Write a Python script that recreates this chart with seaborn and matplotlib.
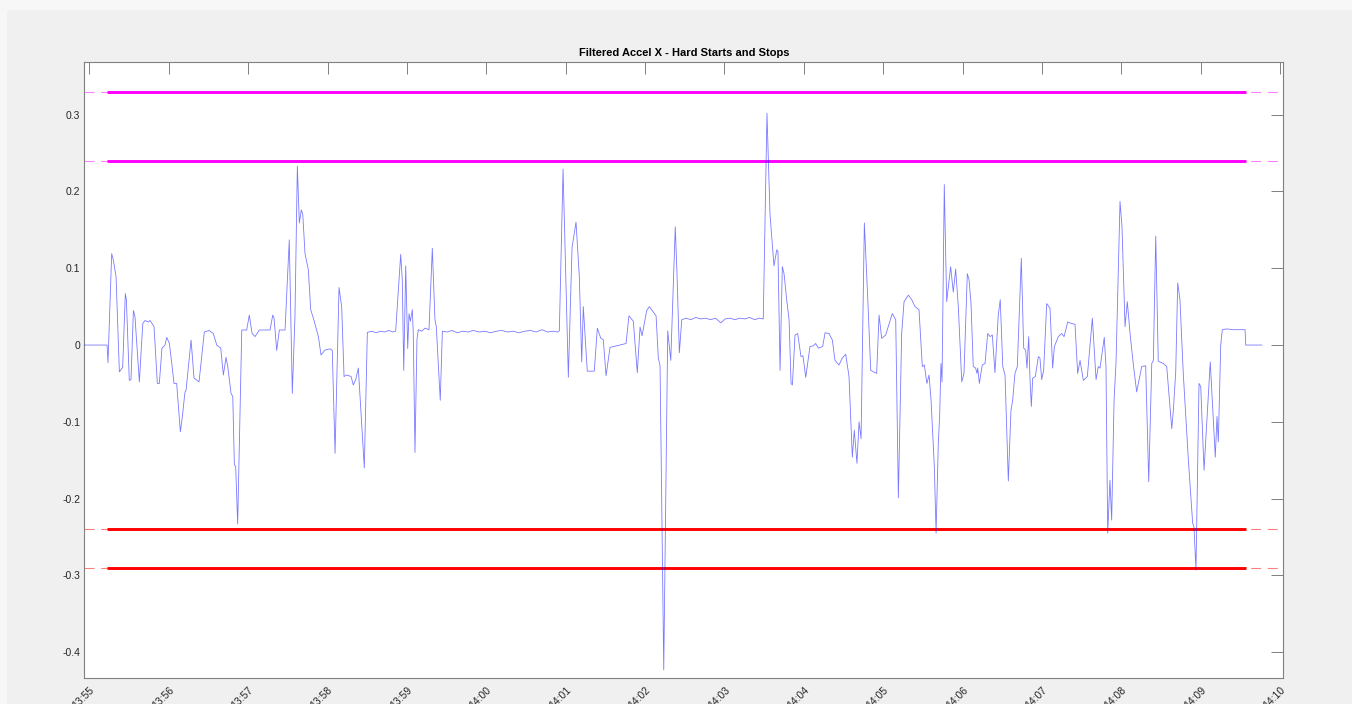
import numpy as np
import pandas as pd
import matplotlib
matplotlib.use("Agg")
import matplotlib.pyplot as plt
import matplotlib.dates as mdates
from matplotlib.patches import Rectangle
import seaborn as sns

# Time reference of the trip and the x-range shown (seconds after 13:55:00)
trip_start = pd.Timestamp("2017-06-01 13:55:00")
x_range_sec = [-3.8, 902.3]
y_range = [-0.434, 0.369]

# Filtered longitudinal acceleration, sampled at seconds after 13:55:00
t_sec = [
    -4.0, 13.4, 14.1, 16.9, 18.1, 20.2, 22.7, 25.2, 27.2, 28.0,
    30.2, 31.5, 33.3, 34.5, 37.8, 40.4, 42.1, 44.6, 45.9, 48.9,
    51.4, 52.9, 54.9, 57.2, 58.5, 60.5, 62.3, 64.0, 66.0, 68.8,
    70.3, 72.3, 73.1, 76.9, 79.1, 82.9, 86.9, 90.5, 93.7, 96.3,
    99.3, 101.3, 103.3, 104.6, 107.1, 108.4, 109.6, 110.6, 112.1, 115.2,
    118.9, 120.9, 123.0, 125.2, 128.5, 133.5, 136.6, 138.6, 139.6, 141.6,
    143.6, 147.9, 151.1, 153.4, 155.4, 157.2, 158.7, 160.2, 161.3, 163.0,
    165.5, 167.3, 169.3, 173.1, 175.1, 178.1, 181.9, 183.6, 185.7, 188.7,
    190.7, 192.5, 194.5, 197.8, 199.5, 201.3, 203.3, 207.8, 210.1, 213.5,
    216.8, 219.7, 223.0, 226.5, 229.0, 231.5, 235.3, 236.5, 237.6, 239.1,
    240.6, 241.6, 242.6, 244.1, 244.8, 246.1, 247.6, 248.6, 251.2, 253.7,
    256.7, 259.2, 261.2, 262.2, 265.2, 266.8, 270.5, 274.0, 278.2, 282.0,
    286.4, 290.1, 294.5, 299.0, 303.2, 307.5, 311.8, 316.0, 320.3, 324.9,
    329.0, 333.4, 337.7, 342.0, 346.3, 350.5, 354.0, 355.2, 358.0, 362.0,
    364.8, 367.8, 370.3, 372.1, 373.3, 376.3, 379.7, 381.6, 383.9, 386.5,
    388.4, 390.5, 393.5, 398.6, 405.6, 407.8, 411.1, 414.1, 416.2, 417.7,
    421.2, 423.2, 428.3, 430.0, 431.3, 434.1, 437.1, 439.4, 442.8, 444.1,
    445.9, 447.7, 451.0, 454.6, 458.3, 462.0, 465.8, 469.5, 473.2, 477.2,
    480.5, 484.1, 487.9, 491.6, 495.4, 499.0, 502.8, 506.4, 509.3, 512.1,
    514.4, 517.4, 519.5, 520.4, 522.0, 523.7, 525.0, 527.0, 528.8, 530.3,
    531.3, 533.3, 535.3, 537.8, 539.3, 541.4, 544.6, 547.1, 548.9, 550.9,
    554.2, 556.0, 559.0, 561.5, 563.5, 566.5, 569.0, 571.6, 574.1, 576.6,
    578.1, 580.1, 581.7, 583.2, 585.7, 588.2, 590.5, 595.0, 596.8, 598.8,
    601.8, 606.8, 609.4, 611.4, 613.9, 615.7, 618.9, 621.5, 624.0, 627.0,
    629.5, 631.0, 633.0, 634.6, 636.1, 638.6, 639.9, 641.6, 642.6, 643.6,
    644.4, 646.1, 647.9, 650.9, 652.9, 654.7, 656.7, 659.3, 661.0, 663.5,
    664.8, 666.3, 668.0, 669.8, 670.8, 671.4, 672.6, 674.8, 676.9, 678.9,
    680.7, 682.4, 684.4, 686.9, 688.4, 690.3, 692.0, 694.5, 696.5, 697.8,
    699.5, 701.3, 704.3, 706.1, 707.6, 708.6, 709.9, 710.9, 711.9, 712.9,
    714.9, 717.2, 718.4, 719.7, 721.2, 723.5, 726.0, 728.0, 729.3, 732.3,
    734.8, 736.6, 739.4, 742.4, 744.9, 746.9, 748.7, 751.2, 754.2, 758.0,
    760.8, 762.5, 763.8, 767.0, 768.3, 769.6, 771.3, 772.6, 774.4, 775.9,
    778.9, 780.4, 782.7, 784.4, 786.5, 789.0, 791.5, 795.3, 798.3, 800.6,
    802.9, 804.1, 805.9, 807.8, 811.6, 814.2, 818.0, 819.2, 821.0, 822.5,
    824.2, 826.7, 830.5, 833.8, 834.8, 836.3, 838.6, 839.9, 842.4, 847.1,
    850.9, 852.2, 853.2, 855.0, 856.2, 859.5, 864.5, 872.1, 873.4, 873.9,
    886.2,
]
accel_x = [
    0.0, 0.0, -0.023, 0.119, 0.111, 0.089, -0.035, -0.029, 0.067, 0.059,
    -0.046, -0.045, 0.045, 0.037, -0.048, 0.028, 0.032, 0.030, 0.032, 0.024,
    -0.050, -0.050, -0.004, 0.0, 0.010, 0.002, -0.024, -0.050, -0.050, -0.113,
    -0.093, -0.061, -0.059, 0.0065, -0.043, -0.048, 0.017, 0.019, 0.015, 0.0,
    -0.004, -0.039, -0.016, -0.028, -0.063, -0.067, -0.156, -0.158, -0.233, 0.0196,
    0.0196, 0.039, 0.015, 0.011, 0.0196, 0.0196, 0.0196, 0.039, 0.035, -0.007,
    0.0196, 0.0196, 0.137, -0.063, 0.037, 0.233, 0.159, 0.176, 0.170, 0.119,
    0.098, 0.046, 0.035, 0.011, -0.013, -0.0065, -0.005, -0.007, -0.141, 0.075,
    0.050, -0.041, -0.039, -0.041, -0.052, -0.045, -0.030, -0.160, 0.0165, 0.018,
    0.016, 0.018, 0.017, 0.019, 0.017, 0.018, 0.118, 0.085, -0.033, 0.103,
    -0.0045, 0.041, 0.031, 0.046, 0.015, -0.140, 0.007, 0.020, 0.018, 0.022,
    0.020, 0.126, 0.033, 0.024, -0.072, 0.018, 0.017, 0.019, 0.016, 0.018,
    0.017, 0.019, 0.017, 0.018, 0.016, 0.018, 0.019, 0.017, 0.018, 0.016,
    0.018, 0.019, 0.017, 0.020, 0.017, 0.018, 0.017, 0.0186, 0.229, -0.042,
    0.127, 0.160, 0.089, -0.022, 0.050, -0.034, -0.034, -0.034, 0.022, 0.009,
    0.007, -0.040, -0.003, -0.001, 0.002, 0.038, 0.031, -0.036, 0.0235, 0.012,
    0.045, 0.050, 0.038, -0.017, -0.027, -0.423, 0.0186, -0.020, 0.154, 0.093,
    -0.010, 0.033, 0.035, 0.033, 0.036, 0.034, 0.035, 0.033, 0.035, 0.029,
    0.034, 0.035, 0.033, 0.035, 0.034, 0.036, 0.033, 0.035, 0.034, 0.302,
    0.170, 0.103, 0.124, 0.122, -0.033, 0.102, 0.093, 0.059, 0.033, -0.050,
    -0.052, 0.013, 0.015, -0.015, -0.014, -0.042, -0.002, -0.001, 0.002, -0.004,
    -0.002, 0.016, 0.015, 0.0065, -0.020, -0.026, -0.017, -0.012, -0.041, -0.146,
    -0.111, -0.154, -0.100, -0.122, 0.159, 0.063, -0.033, -0.037, 0.039, 0.0087,
    0.013, 0.041, 0.033, -0.199, 0.015, 0.0565, 0.065, 0.059, 0.050, 0.046,
    -0.028, -0.026, -0.050, -0.039, -0.072, -0.159, -0.245, -0.126, -0.093, -0.024,
    -0.048, 0.209, 0.0565, 0.102, 0.069, 0.099, 0.050, -0.048, -0.037, 0.093,
    0.085, 0.054, -0.028, -0.030, -0.037, -0.030, -0.050, -0.026, -0.024, 0.015,
    0.011, 0.013, -0.036, 0.039, 0.059, -0.028, -0.039, -0.177, -0.085, -0.072,
    -0.037, -0.028, 0.113, -0.004, -0.0065, -0.030, 0.011, -0.0456, -0.080, -0.043,
    -0.041, -0.015, -0.017, -0.045, -0.0326, 0.054, 0.048, -0.030, -0.002, 0.011,
    0.015, 0.011, 0.030, 0.028, 0.027, -0.037, -0.020, -0.046, -0.041, 0.035,
    -0.045, -0.028, -0.030, 0.010, -0.028, -0.245, -0.176, -0.228, -0.072, -0.022,
    0.187, 0.154, 0.024, 0.0565, 0.015, -0.026, -0.061, -0.028, -0.027, -0.178,
    -0.024, -0.020, 0.142, -0.021, -0.024, -0.028, -0.109, -0.085, -0.035, 0.081,
    0.059, -0.037, -0.148, -0.232, -0.237, -0.293, -0.050, -0.054, -0.163, -0.022,
    -0.146, -0.093, -0.126, 0.0, 0.020, 0.021, 0.020, 0.020, 0.020, 0.0,
    0.0,
]

# Hard-start (positive) and hard-stop (negative) alert thresholds
start_levels = [0.33, 0.24]
stop_levels = [-0.24, -0.29]
threshold_span_sec = [13.4, 874.1]

title_text = "Filtered Accel X - Hard Starts and Stops"
y_ticks = [-0.4, -0.3, -0.2, -0.1, 0.0, 0.1, 0.2, 0.3]


def to_num(seconds):
    stamps = trip_start + pd.to_timedelta(np.asarray(seconds, dtype=float), unit="s")
    return mdates.date2num(stamps.to_pydatetime())


sns.set_style("white")
plt.rcParams["font.family"] = ["Liberation Sans", "DejaVu Sans"]
plt.rcParams["axes.unicode_minus"] = False

df = pd.DataFrame({
    "time": trip_start + pd.to_timedelta(np.asarray(t_sec, dtype=float), unit="s"),
    "accel": accel_x,
})

fig = plt.figure(figsize=(13.52, 7.04), dpi=100)
fig.patch.set_facecolor("#F7F7F7")
panel = Rectangle((7 / 1352, 0), 1 - 7 / 1352, 1 - 10 / 704,
                  transform=fig.transFigure, facecolor="#F0F0F0",
                  edgecolor="none", zorder=-10)
fig.add_artist(panel)
ax = fig.add_axes([84.3 / 1352, 1 - 678.3 / 704, 1199 / 1352, 616.6 / 704])
ax.set_zorder(1)
ax.set_facecolor("white")

# Threshold guides: thin dashed over the whole axis, bold over the trip
x0, x1 = to_num(threshold_span_sec)
for levels, col in ((start_levels, "#FF00FF"), (stop_levels, "#FF0000")):
    for lv in levels:
        ax.axhline(lv, color=col, lw=0.8, ls=(0, (9, 6)), alpha=0.5, zorder=1)
        ax.hlines(lv, x0, x1, color=col, lw=2.1, zorder=2)

sns.lineplot(data=df, x="time", y="accel", ax=ax, color="#2020FF", lw=0.6,
             alpha=0.6, estimator=None, sort=False, zorder=3)

xl = to_num(x_range_sec)
ax.set_xlim(xl[0], xl[1])
ax.set_ylim(*y_range)
ax.xaxis.set_major_locator(mdates.MinuteLocator())
ax.xaxis.set_major_formatter(mdates.DateFormatter("%H:%M"))
ax.set_yticks(y_ticks)
ax.set_yticklabels([f"{v:g}" if abs(v) > 1e-9 else "0" for v in y_ticks])
ax.set_xlabel("")
ax.set_ylabel("")

for side in ax.spines.values():
    side.set_color("#808080")
    side.set_linewidth(0.8)
ax.tick_params(direction="in", length=8.4, width=0.7, color="#808080",
               top=True, right=True, labelsize=7.5, labelcolor="#262626", pad=3)
ax.tick_params(axis="x", pad=5)
for lbl in ax.get_xticklabels():
    lbl.set_rotation(45)
    lbl.set_ha("right")
    lbl.set_va("top")
    lbl.set_rotation_mode("anchor")

ax.set_title(title_text, fontsize=8, fontweight="bold", pad=4, color="#000000")

fig.savefig("out.png", dpi=100, facecolor=fig.get_facecolor())
